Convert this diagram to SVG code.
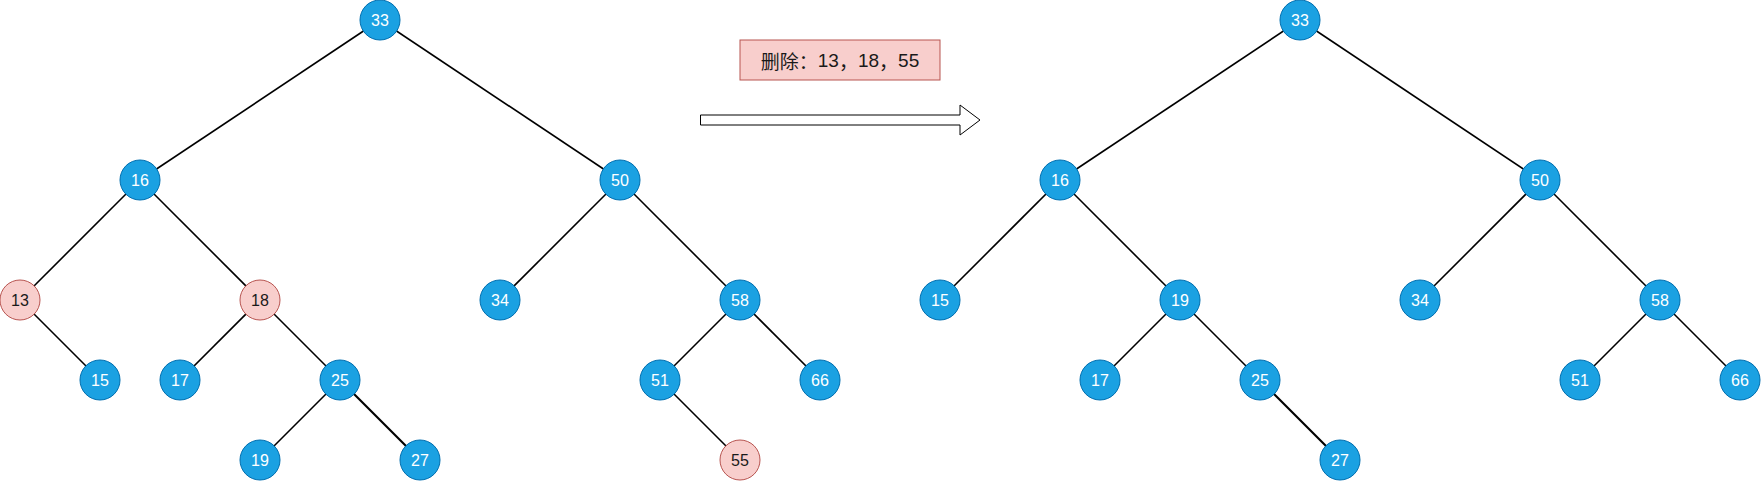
<svg xmlns="http://www.w3.org/2000/svg" width="1761" height="482" viewBox="0 0 1761 482">
<style>
.b circle{fill:#1ba1e2;stroke:#006eaf;stroke-width:1}
.r circle{fill:#f8cecc;stroke:#b85450;stroke-width:1}
text{font-family:"Liberation Sans",Arial,sans-serif;font-size:16px;text-anchor:middle;dominant-baseline:central}
.cjk{font-family:"Noto Sans CJK SC",sans-serif}
.lat{font-family:"Liberation Sans",Arial,sans-serif}
.b text{fill:#ffffff}
.r text{fill:#1a1a1a}
#edges line{stroke:#000;stroke-width:1.6}
</style>
<rect width="1761" height="482" fill="#ffffff"/>
<g id="edges">
<line x1="380" y1="20" x2="140" y2="180"/>
<line x1="380" y1="20" x2="620" y2="180"/>
<line x1="140" y1="180" x2="20" y2="300"/>
<line x1="140" y1="180" x2="260" y2="300"/>
<line x1="20" y1="300" x2="100" y2="380"/>
<line x1="260" y1="300" x2="180" y2="380"/>
<line x1="260" y1="300" x2="340" y2="380"/>
<line x1="340" y1="380" x2="260" y2="460"/>
<line x1="340" y1="380" x2="420" y2="460" style="stroke-width:2.2"/>
<line x1="620" y1="180" x2="500" y2="300"/>
<line x1="620" y1="180" x2="740" y2="300"/>
<line x1="740" y1="300" x2="660" y2="380"/>
<line x1="740" y1="300" x2="820" y2="380"/>
<line x1="660" y1="380" x2="740" y2="460"/>
<line x1="1300" y1="20" x2="1060" y2="180"/>
<line x1="1300" y1="20" x2="1540" y2="180"/>
<line x1="1060" y1="180" x2="940" y2="300"/>
<line x1="1060" y1="180" x2="1180" y2="300"/>
<line x1="1180" y1="300" x2="1100" y2="380"/>
<line x1="1180" y1="300" x2="1260" y2="380"/>
<line x1="1260" y1="380" x2="1340" y2="460" style="stroke-width:2.2"/>
<line x1="1540" y1="180" x2="1420" y2="300"/>
<line x1="1540" y1="180" x2="1660" y2="300"/>
<line x1="1660" y1="300" x2="1580" y2="380"/>
<line x1="1660" y1="300" x2="1740" y2="380"/>
</g>
<g id="L33" class="b"><circle cx="380" cy="20" r="20"/><text x="380" y="20">33</text></g>
<g id="L16" class="b"><circle cx="140" cy="180" r="20"/><text x="140" y="180">16</text></g>
<g id="L50" class="b"><circle cx="620" cy="180" r="20"/><text x="620" y="180">50</text></g>
<g id="L13" class="r"><circle cx="20" cy="300" r="20"/><text x="20" y="300">13</text></g>
<g id="L18" class="r"><circle cx="260" cy="300" r="20"/><text x="260" y="300">18</text></g>
<g id="L34" class="b"><circle cx="500" cy="300" r="20"/><text x="500" y="300">34</text></g>
<g id="L58" class="b"><circle cx="740" cy="300" r="20"/><text x="740" y="300">58</text></g>
<g id="L15" class="b"><circle cx="100" cy="380" r="20"/><text x="100" y="380">15</text></g>
<g id="L17" class="b"><circle cx="180" cy="380" r="20"/><text x="180" y="380">17</text></g>
<g id="L25" class="b"><circle cx="340" cy="380" r="20"/><text x="340" y="380">25</text></g>
<g id="L51" class="b"><circle cx="660" cy="380" r="20"/><text x="660" y="380">51</text></g>
<g id="L66" class="b"><circle cx="820" cy="380" r="20"/><text x="820" y="380">66</text></g>
<g id="L19" class="b"><circle cx="260" cy="460" r="20"/><text x="260" y="460">19</text></g>
<g id="L27" class="b"><circle cx="420" cy="460" r="20"/><text x="420" y="460">27</text></g>
<g id="L55" class="r"><circle cx="740" cy="460" r="20"/><text x="740" y="460">55</text></g>
<g id="R33" class="b"><circle cx="1300" cy="20" r="20"/><text x="1300" y="20">33</text></g>
<g id="R16" class="b"><circle cx="1060" cy="180" r="20"/><text x="1060" y="180">16</text></g>
<g id="R50" class="b"><circle cx="1540" cy="180" r="20"/><text x="1540" y="180">50</text></g>
<g id="R15" class="b"><circle cx="940" cy="300" r="20"/><text x="940" y="300">15</text></g>
<g id="R19" class="b"><circle cx="1180" cy="300" r="20"/><text x="1180" y="300">19</text></g>
<g id="R34" class="b"><circle cx="1420" cy="300" r="20"/><text x="1420" y="300">34</text></g>
<g id="R58" class="b"><circle cx="1660" cy="300" r="20"/><text x="1660" y="300">58</text></g>
<g id="R17" class="b"><circle cx="1100" cy="380" r="20"/><text x="1100" y="380">17</text></g>
<g id="R25" class="b"><circle cx="1260" cy="380" r="20"/><text x="1260" y="380">25</text></g>
<g id="R51" class="b"><circle cx="1580" cy="380" r="20"/><text x="1580" y="380">51</text></g>
<g id="R66" class="b"><circle cx="1740" cy="380" r="20"/><text x="1740" y="380">66</text></g>
<g id="R27" class="b"><circle cx="1340" cy="460" r="20"/><text x="1340" y="460">27</text></g>
<g id="label">
<rect x="740" y="40" width="200" height="40" fill="#f8cecc" stroke="#b85450" stroke-width="1"/>
<text x="840" y="60" style="font-size:19px;fill:#1a1a1a"><tspan class="cjk">删除：</tspan><tspan class="lat">13</tspan><tspan class="cjk">，</tspan><tspan class="lat">18</tspan><tspan class="cjk">，</tspan><tspan class="lat">55</tspan></text>
</g>
<g id="arrow">
<path d="M700.5 115 L960 115 L960 105 L980 120 L960 135 L960 125 L700.5 125 Z" fill="#ffffff" stroke="#000" stroke-width="1"/>
</g>
</svg>
